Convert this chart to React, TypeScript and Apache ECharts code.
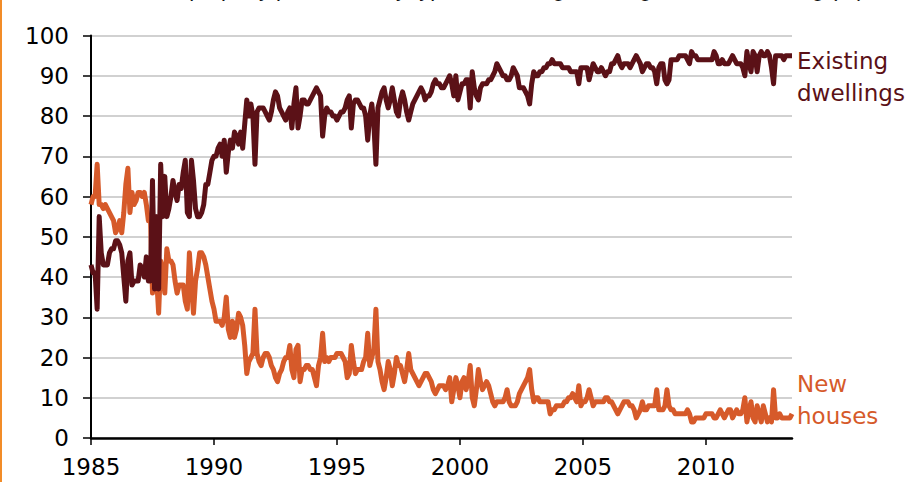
import React, { useEffect, useRef } from "react";
import * as echarts from "echarts";

// Monthly shares (%) from Jan 1985 to mid 2013
const existingDwellings: number[] = [
  // 1985
  43, 41, 41, 32, 55, 46, 43, 43, 43, 46, 47, 47,
  // 1986
  49, 49, 48, 46, 40, 34, 44, 46, 38, 39, 39, 39,
  // 1987
  43, 42, 40, 45, 39, 39, 64, 37, 55, 37, 68, 55,
  // 1988
  65, 55, 57, 60, 64, 61, 59, 63, 62, 66, 69, 56,
  // 1989
  55, 69, 64, 57, 55, 55, 56, 58, 63, 63, 66, 69,
  // 1990
  70, 70, 72, 73, 70, 74, 66, 71, 74, 72, 76, 75,
  // 1991
  73, 76, 72, 78, 84, 80, 83, 80, 68, 81, 82, 82,
  // 1992
  82, 81, 80, 79, 81, 84, 86, 85, 82, 81, 80, 79,
  // 1993
  81, 82, 77, 83, 87, 77, 80, 84, 84, 83, 83, 84,
  // 1994
  85, 86, 87, 86, 85, 75, 80, 82, 81, 81, 80, 80,
  // 1995
  79, 80, 81, 81, 82, 84, 85, 77, 83, 84, 84, 83,
  // 1996
  82, 82, 80, 74, 80, 83, 78, 68, 82, 84, 86, 87,
  // 1997
  84, 82, 84, 87, 84, 81, 80, 84, 86, 84, 81, 79,
  // 1998
  81, 83, 84, 85, 86, 87, 86, 84, 85, 85, 86, 88,
  // 1999
  89, 88, 88, 87, 87, 88, 89, 90, 88, 85, 90, 84,
  // 2000
  86, 88, 88, 89, 89, 82, 91, 87, 85, 84, 87, 88,
  // 2001
  88, 88, 89, 89, 90, 91, 93, 92, 91, 90, 90, 89,
  // 2002
  89, 90, 92, 91, 90, 87, 87, 87, 86, 85, 83, 88,
  // 2003
  91, 90, 90, 91, 91, 92, 92, 93, 93, 94, 93, 93,
  // 2004
  93, 93, 92, 92, 92, 92, 91, 91, 91, 91, 88, 92,
  // 2005
  92, 92, 92, 89, 91, 93, 92, 91, 91, 92, 91, 90,
  // 2006
  91, 91, 93, 93, 94, 95, 93, 92, 93, 93, 93, 92,
  // 2007
  93, 94, 95, 94, 93, 91, 92, 93, 93, 92, 92, 91,
  // 2008
  88, 92, 93, 93, 89, 88, 89, 94, 94, 94, 94, 95,
  // 2009
  95, 95, 95, 94, 93, 96, 95, 95, 94, 94, 94, 94,
  // 2010
  94, 94, 94, 94, 96, 95, 93, 93, 94, 93, 93, 93,
  // 2011
  94, 95, 94, 93, 93, 93, 92, 90, 96, 93, 91, 96,
  // 2012
  95, 91, 95, 96, 95, 95, 96, 95, 92, 88, 95, 95,
  // 2013
  95, 95, 94, 95, 95, 95, 95,
];

const newHouses: number[] = [
  // 1985
  58, 60, 60, 68, 58, 58, 57, 58, 57, 56, 55, 54,
  // 1986
  51, 52, 54, 51, 56, 63, 67, 56, 61, 58, 59, 61,
  // 1987
  61, 60, 61, 58, 54, 55, 36, 45, 40, 31, 44, 42,
  // 1988
  36, 47, 44, 44, 43, 39, 36, 38, 38, 38, 34, 32,
  // 1989
  46, 38, 31, 39, 42, 46, 46, 45, 43, 40, 37, 34,
  // 1990
  32, 29, 29, 29, 28, 30, 35, 27, 25, 29, 25, 27,
  // 1991
  31, 30, 28, 23, 16, 19, 20, 21, 32, 21, 19, 18,
  // 1992
  20, 21, 21, 20, 18, 17, 15, 14, 16, 17, 19, 20,
  // 1993
  20, 23, 17, 15, 22, 23, 14, 17, 17, 18, 18, 17,
  // 1994
  17, 15, 13, 18, 20, 26, 19, 20, 19, 20, 20, 20,
  // 1995
  21, 21, 21, 20, 19, 15, 16, 23, 19, 16, 17, 17,
  // 1996
  17, 19, 20, 26, 18, 20, 22, 32, 19, 17, 14, 12,
  // 1997
  15, 19, 17, 13, 16, 20, 18, 18, 16, 14, 17, 21,
  // 1998
  17, 16, 15, 14, 13, 14, 15, 16, 16, 15, 14, 12,
  // 1999
  11, 12, 13, 13, 13, 12, 13, 15, 9, 12, 15, 13,
  // 2000
  10, 14, 15, 12, 14, 18, 10, 8, 12, 17, 14, 12,
  // 2001
  13, 14, 13, 11, 9, 8, 9, 9, 9, 9, 10, 12,
  // 2002
  9, 8, 8, 8, 9, 11, 12, 13, 14, 15, 17, 12,
  // 2003
  9, 10, 10, 9, 9, 9, 9, 9, 6, 7, 7, 8,
  // 2004
  8, 8, 8, 9, 9, 10, 10, 11, 10, 9, 13, 8,
  // 2005
  9, 9, 10, 12, 10, 8, 9, 9, 9, 9, 9, 10,
  // 2006
  10, 9, 9, 8, 7, 6, 7, 8, 9, 9, 9, 8,
  // 2007
  8, 7, 5, 6, 7, 9, 7, 7, 8, 8, 8, 8,
  // 2008
  12, 7, 7, 7, 8, 12, 8, 7, 7, 6, 6, 6,
  // 2009
  6, 6, 6, 7, 6, 4, 4, 5, 5, 5, 5, 5,
  // 2010
  6, 6, 6, 6, 5, 5, 6, 7, 6, 5, 6, 7,
  // 2011
  7, 5, 6, 7, 6, 6, 7, 10, 4, 7, 9, 5,
  // 2012
  4, 8, 6, 4, 8, 6, 4, 5, 4, 12, 5, 5,
  // 2013
  6, 5, 5, 5, 5, 5, 6,
];

const startYear = 1985;
const endYear = 2013.5;
const yearTicks: number[] = [1985, 1990, 1995, 2000, 2005, 2010];
const seriesNames: string[] = ["New houses", "Existing dwellings"];
const titleText = "Share of property purchases by type of dwelling, existing and new housing (%)";

const DARK = "#5b1117";
const ORANGE = "#d65a2a";
const FONT = "'DejaVu Sans', 'Liberation Sans', Arial, sans-serif";

export default function App() {
  const ref = useRef<HTMLDivElement>(null);

  useEffect(() => {
    document.body.style.margin = "0";
    if (!ref.current) return;
    const chart = echarts.init(ref.current, null, { renderer: "svg" });

    const toPairs = (arr: number[]) => arr.map((v, i) => [startYear + i / 12, v]);

    chart.setOption({
      animation: false,
      backgroundColor: "#ffffff",
      textStyle: { fontFamily: FONT },
      grid: { left: 91, right: 127, top: 35.5, bottom: 44, containLabel: false },
      graphic: [
        {
          type: "rect",
          shape: { x: 0, y: 0, width: 2, height: 482 },
          style: { fill: "#f28c28" },
          silent: true,
        },
        {
          type: "text",
          style: {
            x: 100,
            y: -1,
            text: titleText,
            fontSize: 22,
            fontFamily: "'Liberation Sans', Arial, sans-serif",
            fill: "#111",
            verticalAlign: "bottom",
          },
          silent: true,
        },
      ],
      xAxis: {
        type: "value",
        min: startYear,
        max: endYear,
        interval: 5,
        axisLine: { show: true, onZero: false, lineStyle: { color: "#000", width: 2.5 } },
        axisTick: {
          show: true,
          length: 7,
          inside: false,
          customValues: yearTicks,
          lineStyle: { color: "#000", width: 1.5 },
        },
        axisLabel: {
          show: true,
          customValues: yearTicks,
          fontSize: 23,
          color: "#000",
          margin: 17,
          fontFamily: FONT,
          formatter: (v: number) => String(Math.round(v)),
        },
        splitLine: { show: false },
      },
      yAxis: {
        type: "value",
        min: 0,
        max: 100,
        interval: 10,
        axisLine: { show: true, lineStyle: { color: "#000", width: 2 } },
        axisTick: { show: true, length: 8, inside: false, lineStyle: { color: "#000", width: 1.5 } },
        axisLabel: { fontSize: 23, color: "#000", margin: 22, fontFamily: FONT },
        splitLine: { show: true, lineStyle: { color: "#c2c2c2", width: 1.5 } },
      },
      series: [
        {
          name: seriesNames[0],
          type: "line",
          data: toPairs(newHouses),
          showSymbol: false,
          symbol: "none",
          lineStyle: { color: ORANGE, width: 5, join: "round" },
          itemStyle: { color: ORANGE },
          endLabel: {
            show: true,
            formatter: "New\nhouses",
            color: ORANGE,
            fontSize: 23,
            lineHeight: 32,
            fontFamily: FONT,
            distance: 5,
            offset: [0, -14],
          },
          z: 2,
        },
        {
          name: seriesNames[1],
          type: "line",
          data: toPairs(existingDwellings),
          showSymbol: false,
          symbol: "none",
          lineStyle: { color: DARK, width: 5, join: "round" },
          itemStyle: { color: DARK },
          endLabel: {
            show: true,
            formatter: "Existing\ndwellings",
            color: DARK,
            fontSize: 23,
            lineHeight: 32,
            fontFamily: FONT,
            distance: 5,
            offset: [0, 21],
          },
          z: 3,
        },
      ],
    });

    return () => chart.dispose();
  }, []);

  return <div ref={ref} style={{ width: 919, height: 482 }} />;
}
